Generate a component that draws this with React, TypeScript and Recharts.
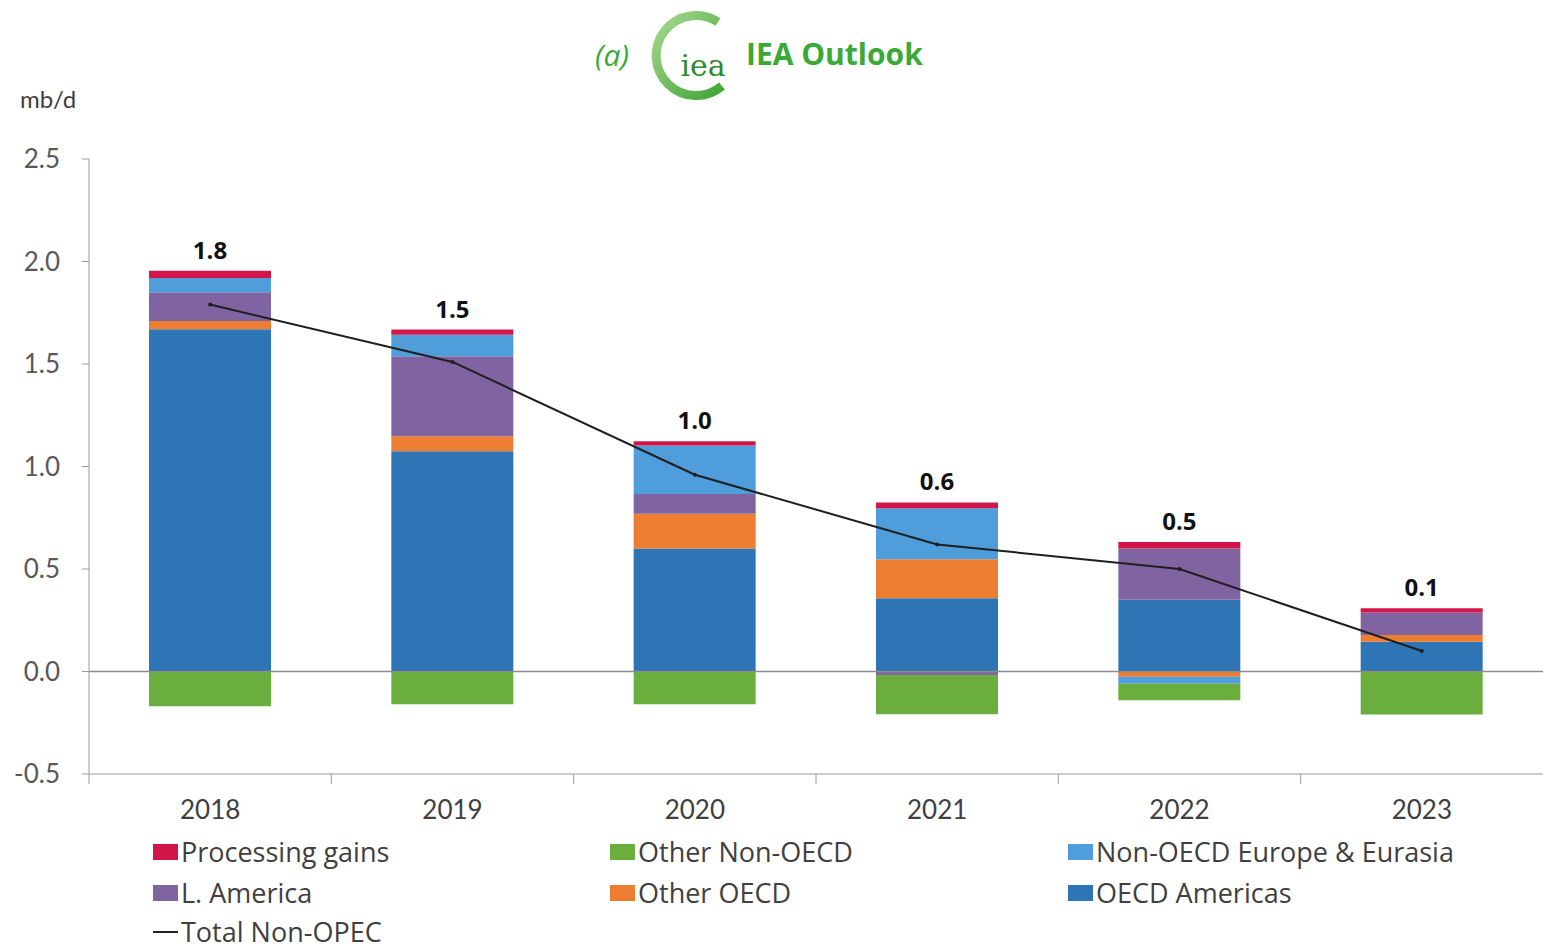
import React from 'react'
import {
  Bar,
  ComposedChart,
  LabelList,
  Line,
  ReferenceLine,
  XAxis,
  YAxis
} from 'recharts'

const years = ['2018', '2019', '2020', '2021', '2022', '2023']
const oecdAmericas = [1.67, 1.075, 0.6, 0.357, 0.35, 0.145]
const otherOecd = [0.04, 0.073, 0.17, 0.19, -0.025, 0.033]
const latinAmerica = [0.14, 0.39, 0.096, -0.017, 0.25, 0.11]
const nonOecdEurasia = [0.07, 0.105, 0.236, 0.249, -0.035, 0]
const processingGains = [0.035, 0.025, 0.021, 0.029, 0.032, 0.021]
const otherNonOecd = [-0.17, -0.16, -0.16, -0.192, -0.08, -0.21]
const totalNonOpec = [1.79, 1.51, 0.96, 0.62, 0.5, 0.1]
const yTicks = [-0.5, 0, 0.5, 1.0, 1.5, 2.0, 2.5]

const colors = {
  oecdAmericas: '#2e75b6',
  otherOecd: '#ed7d31',
  latinAmerica: '#8064a2',
  nonOecdEurasia: '#4f9ddb',
  processingGains: '#d3164a',
  otherNonOecd: '#6aaf3d',
  total: '#1f1f1f'
}

const legendRows = [
  [
    { label: 'Processing gains', color: colors.processingGains },
    { label: 'Other Non-OECD', color: colors.otherNonOecd },
    { label: 'Non-OECD Europe & Eurasia', color: colors.nonOecdEurasia }
  ],
  [
    { label: 'L. America', color: colors.latinAmerica },
    { label: 'Other OECD', color: colors.otherOecd },
    { label: 'OECD Americas', color: colors.oecdAmericas }
  ]
]

const FONT = 'Lato, "Open Sans", sans-serif'
const LEGEND_FONT = '"Open Sans", sans-serif'
const HALF_BAND = (1543 - 89) / 12

function YearTick(props: any) {
  const { x, y, payload } = props
  return (
    <g>
      <line x1={x - HALF_BAND} x2={x - HALF_BAND} y1={y} y2={y + 10} stroke="#9a9a9a" />
      <text x={x} y={y + 45} textAnchor="middle" fill="#404040" fontSize={26} fontFamily={FONT}>
        {payload.value}
      </text>
    </g>
  )
}

function TotalLabel(props: any) {
  const { x, y, width, value } = props
  return (
    <text
      x={x + width / 2}
      y={y - 12}
      textAnchor="middle"
      fill="#111"
      fontSize={24}
      fontWeight={700}
      fontFamily='"Open Sans", sans-serif'
    >
      {Number(value).toFixed(1)}
    </text>
  )
}

function Title() {
  return (
    <svg width={1543} height={110} style={{ position: 'absolute', left: 0, top: 0, pointerEvents: 'none' }}>
      <defs>
        <linearGradient id="ring" x1="0" y1="0" x2="1" y2="1">
          <stop offset="0%" stopColor="#a6d88f" />
          <stop offset="100%" stopColor="#3fa535" />
        </linearGradient>
      </defs>
      <text x={612} y={66} textAnchor="middle" fill="#3aa935" fontSize={30} fontStyle="italic" fontFamily='"Open Sans", sans-serif'>
        (a)
      </text>
      <path d="M 718 22 A 40 40 0 1 0 722 86" fill="none" stroke="url(#ring)" strokeWidth={9} />
      <text x={703} y={76} textAnchor="middle" fill="#2e8b2e" fontSize={30} fontFamily='"DejaVu Serif", serif'>
        iea
      </text>
      <text x={746} y={65} fill="#3aa935" fontSize={30} fontWeight={700} fontFamily='"Open Sans", sans-serif'>
        IEA Outlook
      </text>
    </svg>
  )
}

function ChartLegend() {
  const cols = [153, 610, 1068]
  const rowY = [852, 893, 932]
  const item = {
    position: 'absolute' as const,
    display: 'flex',
    alignItems: 'center',
    fontSize: 27,
    lineHeight: '30px',
    color: '#404040',
    fontFamily: LEGEND_FONT,
    whiteSpace: 'nowrap' as const,
    transform: 'translateY(-50%)'
  }
  return (
    <>
      {legendRows.map((row, r) =>
        row.map((it, c) => (
          <div key={it.label} style={{ ...item, left: cols[c], top: rowY[r] }}>
            <span style={{ display: 'inline-block', width: 25, height: 16, background: it.color, marginRight: 3 }} />
            {it.label}
          </div>
        ))
      )}
      <div style={{ ...item, left: cols[0], top: rowY[2] }}>
        <span style={{ display: 'inline-block', width: 25, height: 2, background: colors.total, marginRight: 3 }} />
        Total Non-OPEC
      </div>
    </>
  )
}

export default function App() {
  const data = years.map((year, i) => ({
    year,
    oecdAmericas: oecdAmericas[i],
    otherOecd: otherOecd[i],
    latinAmerica: latinAmerica[i],
    nonOecdEurasia: nonOecdEurasia[i],
    processingGains: processingGains[i],
    otherNonOecd: otherNonOecd[i],
    total: totalNonOpec[i]
  }))

  return (
    <div style={{ position: 'absolute', left: 0, top: 0, width: 1543, height: 949, background: '#fff', overflow: 'hidden' }}>
      <div style={{ position: 'absolute', left: 0, top: 0 }}>
        <ComposedChart
          width={1543}
          height={949}
          data={data}
          stackOffset="sign"
          barSize={122}
          margin={{ top: 159, right: 0, bottom: 0, left: 0 }}
        >
          <XAxis
            dataKey="year"
            axisLine={{ stroke: '#9a9a9a' }}
            tickLine={false}
            tickSize={0}
            tickMargin={0}
            interval={0}
            tick={<YearTick />}
            height={175}
          />
          <YAxis
            width={89}
            domain={[-0.5, 2.5]}
            ticks={yTicks}
            allowDataOverflow
            tickFormatter={(v: number) => v.toFixed(1)}
            tick={{ fill: '#595959', fontSize: 26, fontFamily: FONT }}
            tickLine={{ stroke: '#9a9a9a' }}
            axisLine={{ stroke: '#9a9a9a' }}
            tickSize={7}
            tickMargin={22}
          />
          <ReferenceLine y={0} stroke="#8c8c8c" strokeWidth={1.5} />
          <Bar dataKey="oecdAmericas" stackId="s" fill={colors.oecdAmericas} isAnimationActive={false} />
          <Bar dataKey="otherOecd" stackId="s" fill={colors.otherOecd} isAnimationActive={false} />
          <Bar dataKey="latinAmerica" stackId="s" fill={colors.latinAmerica} isAnimationActive={false} />
          <Bar dataKey="nonOecdEurasia" stackId="s" fill={colors.nonOecdEurasia} isAnimationActive={false} />
          <Bar dataKey="processingGains" stackId="s" fill={colors.processingGains} isAnimationActive={false}>
            <LabelList dataKey="total" content={<TotalLabel />} />
          </Bar>
          <Bar dataKey="otherNonOecd" stackId="s" fill={colors.otherNonOecd} isAnimationActive={false} />
          <Line
            type="linear"
            dataKey="total"
            stroke={colors.total}
            strokeWidth={2}
            dot={{ r: 2, fill: colors.total, stroke: 'none' }}
            isAnimationActive={false}
          />
        </ComposedChart>
      </div>
      <Title />
      <div style={{ position: 'absolute', left: 20, top: 84, fontSize: 24, color: '#404040', fontFamily: FONT }}>mb/d</div>
      <ChartLegend />
    </div>
  )
}
